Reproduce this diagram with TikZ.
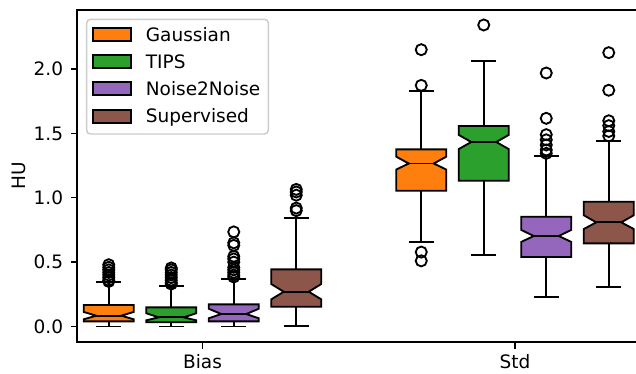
\documentclass[tikz,border=0pt]{standalone}
\usepackage{fontspec}
\setmainfont{DejaVu Sans}
\definecolor{cOrange}{HTML}{FF7F0E}
\definecolor{cGreen}{HTML}{2CA02C}
\definecolor{cPurple}{HTML}{9467BD}
\definecolor{cBrown}{HTML}{8C564B}
\definecolor{legedge}{gray}{0.8}
\tikzset{
  wline/.style={line width=1.85pt, draw=black, line join=miter},
  flier/.style={line width=1.85pt, draw=black},
  spine/.style={line width=1.48pt, draw=black},
  lbl/.style={font=\fontsize{18.5}{22}\selectfont, inner sep=0pt, text=black},
  legpatch/.style={line width=1.85pt, draw=black},
  legframe/.style={draw=legedge, fill=white, fill opacity=0.8, line width=1.48pt, rounded corners=3.7pt}
}
% #1 x, #2 whislo, #3 q1, #4 cilo, #5 med, #6 cihi, #7 q3, #8 whishi, #9 colour
\newcommand\bxpdraw[9]{%
  \draw[wline] (#1,#2) -- (#1,#3) (#1,#7) -- (#1,#8);
  \draw[wline] ({#1-12.5},#2) -- ({#1+12.5},#2) ({#1-12.5},#8) -- ({#1+12.5},#8);
  \filldraw[wline, fill=#9] ({#1-25},#3) -- ({#1+25},#3) -- ({#1+25},#4) -- ({#1+12.5},#5) -- ({#1+25},#6) -- ({#1+25},#7) -- ({#1-25},#7) -- ({#1-25},#6) -- ({#1-12.5},#5) -- ({#1-25},#4) -- cycle;
  \draw[wline] ({#1-12.5},#5) -- ({#1+12.5},#5);
}
\newcommand\flierset[2]{\foreach \fv in {#2}{\draw[flier] (#1,\fv) circle[radius=5.55pt];}}
\begin{document}
\begin{tikzpicture}[x=1pt, y=-1pt]
\useasboundingbox (0,0) rectangle (636,373);
% data scope: value v -> pixel y = 326.5 - 128.75 v
\begin{scope}[y={(0pt,128.75pt)}, shift={(0pt,-326.5pt)}]
  % Bias group
  \bxpdraw{108.75}{0}{0.040}{0.056}{0.084}{0.113}{0.167}{0.346}{cOrange}
  \bxpdraw{171.25}{0}{0.033}{0.048}{0.071}{0.103}{0.149}{0.317}{cGreen}
  \bxpdraw{233.75}{0}{0.040}{0.064}{0.097}{0.138}{0.172}{0.367}{cPurple}
  \bxpdraw{296.25}{0.005}{0.154}{0.211}{0.270}{0.330}{0.444}{0.840}{cBrown}
  % Std group
  \bxpdraw{421.25}{0.654}{1.055}{1.219}{1.266}{1.319}{1.376}{1.829}{cOrange}
  \bxpdraw{483.75}{0.553}{1.132}{1.378}{1.433}{1.488}{1.557}{2.062}{cGreen}
  \bxpdraw{546.25}{0.226}{0.540}{0.657}{0.703}{0.750}{0.853}{1.322}{cPurple}
  \bxpdraw{608.75}{0.304}{0.646}{0.757}{0.809}{0.864}{0.969}{1.441}{cBrown}
  % outliers
  \flierset{108.75}{0.35,0.36,0.38,0.40,0.42,0.44,0.46,0.48}
  \flierset{171.25}{0.33,0.34,0.36,0.38,0.40,0.42,0.44,0.455}
  \flierset{233.75}{0.385,0.40,0.42,0.44,0.46,0.50,0.525,0.545,0.63,0.65,0.735}
  \flierset{296.25}{0.90,0.92,1.02,1.045,1.065}
  \flierset{421.25}{0.51,0.578,1.873,2.150}
  \flierset{483.75}{2.342}
  \flierset{546.25}{1.345,1.371,1.41,1.45,1.49,1.617,1.969}
  \flierset{608.75}{1.48,1.515,1.56,1.598,1.835,2.127}
  % y ticks
  \foreach \tv/\tt [count=\i] in {0/0.0,0.5/0.5,1/1.0,1.5/1.5,2/2.0}{
    \draw[spine] (77,\tv) -- ++(-6.5pt,0pt);
    \node[lbl, anchor=base east] (ytick\i) at ([yshift=-6.7pt]63.3,\tv) {\tt};
  }
\end{scope}
% spines
\draw[spine] (640,10) -- (77,10) -- (77,342) -- (640,342);
% x ticks
\draw[spine] (202.5,342) -- (202.5,348.5);
\draw[spine] (515,342) -- (515,348.5);
\node[lbl, anchor=base] (xbias) at (202.5,368) {Bias};
\node[lbl, anchor=base] (xstd) at (515,368) {Std};
% y label
\node[lbl, rotate=90, anchor=center] (ylab) at (18.5,176) {HU};
% legend
\draw[legframe] (86.7,19.3) rectangle (268.3,134);
\foreach \lc/\ln [count=\j] in {cOrange/Gaussian,cGreen/TIPS,cPurple/Noise2Noise,cBrown/Supervised}{
  \filldraw[legpatch, fill=\lc] (93.3,{34.5+27.2*(\j-1)-6.5}) rectangle (131,{34.5+27.2*(\j-1)+6.5});
  \node[lbl, anchor=base west] (leg\j) at (145.7,{41+27.2*(\j-1)}) {\ln};
}
\end{tikzpicture}
\end{document}
